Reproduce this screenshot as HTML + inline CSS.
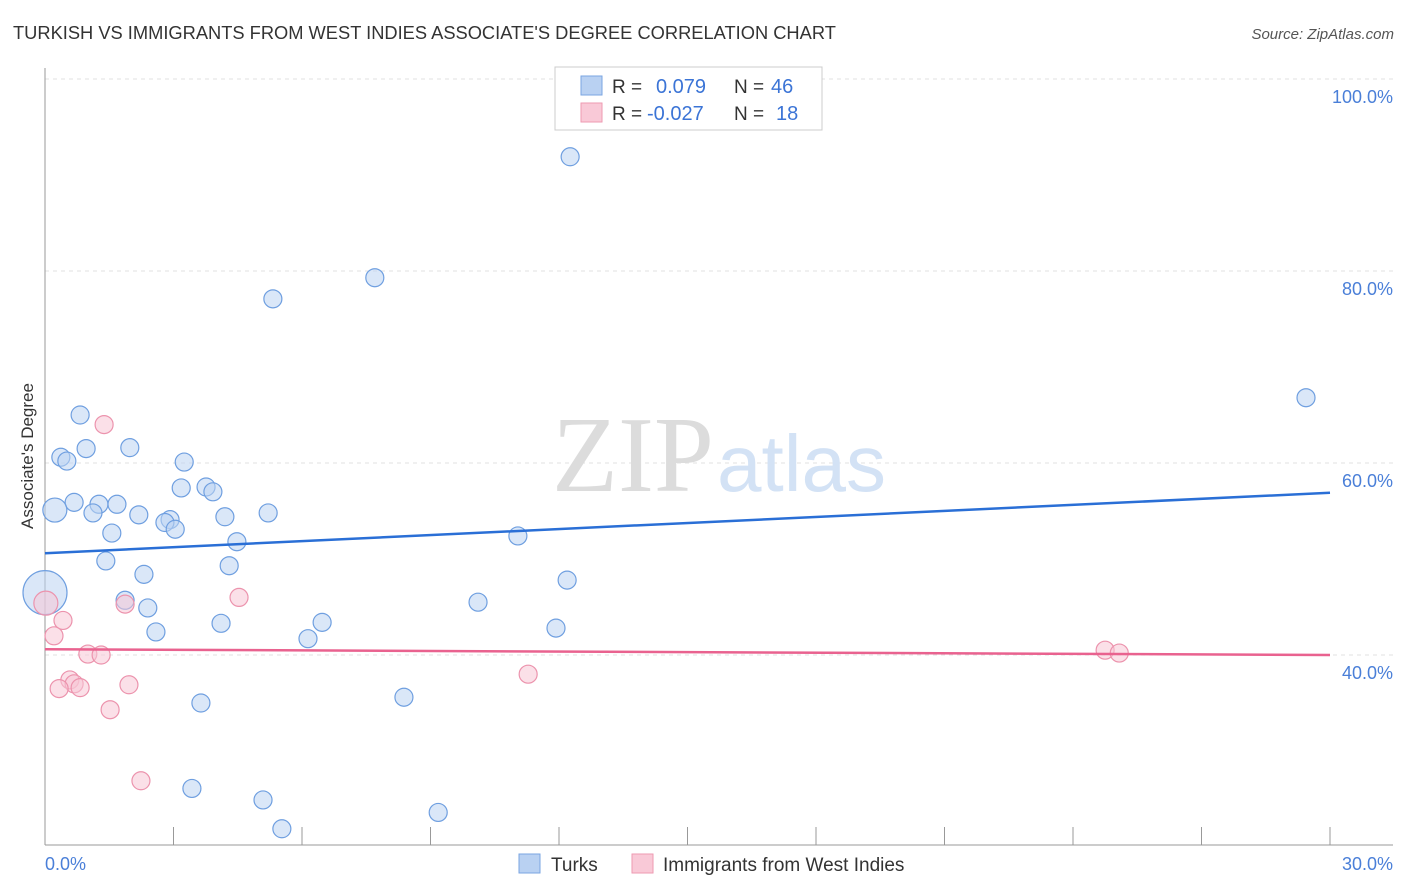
<!DOCTYPE html>
<html><head><meta charset="utf-8"><style>
body{margin:0;background:#fff;font-family:"Liberation Sans",sans-serif;}
svg{display:block}
</style></head><body>
<svg width="1406" height="892">
<text x="13" y="39" font-size="18.3" fill="#333">TURKISH VS IMMIGRANTS FROM WEST INDIES ASSOCIATE'S DEGREE CORRELATION CHART</text>
<text x="1394" y="39" font-size="15" fill="#555" font-style="italic" text-anchor="end">Source: ZipAtlas.com</text>
<g id="grid"></g>
<text x="714" y="491" font-size="108" fill="#dcdcdc" text-anchor="end" font-family="Liberation Serif">ZIP</text>
<text x="717" y="491" font-size="80" fill="#d3e2f5">atlas</text>
<line x1="45" y1="68" x2="45" y2="845" stroke="#999"/>
<line x1="45" y1="845" x2="1393" y2="845" stroke="#999"/>
<g id="ticks"></g>
<g id="pts"></g>
<g id="lines"></g>
<text x="33" y="456" font-size="17" fill="#333" text-anchor="middle" transform="rotate(-90 33 456)">Associate's Degree</text>
<text x="45" y="870" font-size="18" fill="#4a7fd8">0.0%</text>
<text x="1393" y="870" font-size="18" fill="#4a7fd8" text-anchor="end">30.0%</text>
<g>
<rect x="555" y="67" width="267" height="63" fill="#fff" stroke="#ccc"/>
<rect x="581" y="76" width="21" height="19" fill="#b9d1f2" stroke="#7aa5e2"/>
<rect x="581" y="103" width="21" height="19" fill="#f9c9d7" stroke="#ee9ab2"/>
<text x="612" y="93" font-size="19" fill="#333">R = </text><text x="656" y="93" font-size="20" fill="#3b74d6">0.079</text>
<text x="734" y="93" font-size="19" fill="#333">N = </text><text x="771" y="93" font-size="20" fill="#3b74d6">46</text>
<text x="612" y="120" font-size="19" fill="#333">R = </text><text x="647" y="120" font-size="20" fill="#3b74d6">-0.027</text>
<text x="734" y="120" font-size="19" fill="#333">N = </text><text x="776" y="120" font-size="20" fill="#3b74d6">18</text>
</g>
<g>
<rect x="519" y="854" width="21" height="19" fill="#b9d1f2" stroke="#7aa5e2"/>
<text x="551" y="871" font-size="19" fill="#333">Turks</text>
<rect x="632" y="854" width="21" height="19" fill="#f9c9d7" stroke="#ee9ab2"/>
<text x="663" y="871" font-size="19" fill="#333">Immigrants from West Indies</text>
</g>
</svg>
<script>
const yTicks=[40,60,80,100];
const xTickCount=10;
const turksX=[12.26,7.70,5.32,29.44,0.82,1.98,0.96,0.37,0.51,3.25,3.18,3.76,3.92,0.68,1.26,1.68,0.23,1.12,2.19,2.92,2.80,4.20,5.21,3.04,1.56,4.48,11.04,1.42,4.30,2.31,12.19,0,1.87,2.40,10.11,4.11,6.47,11.93,2.59,6.14,3.64,8.38,3.43,5.09,5.53,9.18];
const turksY=[91.9,79.3,77.1,66.8,65.0,61.6,61.5,60.6,60.2,60.1,57.4,57.5,57.0,55.9,55.7,55.7,55.1,54.8,54.6,54.1,53.8,54.4,54.8,53.1,52.7,51.8,52.4,49.8,49.3,48.4,47.8,46.5,45.7,44.9,45.5,43.3,43.4,42.8,42.4,41.7,35.0,35.6,26.1,24.9,21.9,23.6];
const turksR=[9,9,9,9,9,9,9,9,9,9,9,9,9,9,9,9,12,9,9,9,9,9,9,9,9,9,9,9,9,9,9,22,9,9,9,9,9,9,9,9,9,9,9,9,9,9];
const wiX=[1.38,0.02,4.53,1.87,0.42,0.21,1.00,1.31,0.58,0.68,0.33,0.82,1.96,1.52,11.28,2.24,24.75,25.08];
const wiY=[64.0,45.4,46.0,45.3,43.6,42.0,40.1,40.0,37.4,37.0,36.5,36.6,36.9,34.3,38.0,26.9,40.5,40.2];
const wiR=[9,12,9,9,9,9,9,9,9,9,9,9,9,9,9,9,9,9];
const turksLine=[50.6,56.9];
const wiLine=[40.6,40.0];
const NS='http://www.w3.org/2000/svg';
const X=v=>45+v*(1285/30);
const Y=v=>655-(v-40)*9.6;
function mk(t,a,p){const e=document.createElementNS(NS,t);for(const k in a)e.setAttribute(k,a[k]);document.getElementById(p).appendChild(e);return e;}
yTicks.forEach(v=>{
 const l=mk('line',{x1:45,x2:1393,y1:Y(v),y2:Y(v),stroke:'#e2e2e2','stroke-dasharray':'4,4'},'grid');
 
 
 const t=mk('text',{x:1393,y:Y(v)+24,'font-size':18,fill:'#4a7fd8','text-anchor':'end'},'grid');
 t.textContent=v.toFixed(1)+'%';
 
 
});
for(let i=1;i<=xTickCount;i++){
 const l=mk('line',{x1:X(i*3),x2:X(i*3),y1:827,y2:845,stroke:'#999'},'ticks');
 
 
}
function series(xs,ys,rs,fill,stroke,name){
 xs.forEach((x,i)=>{
  const c=mk('circle',{cx:X(x),cy:Y(ys[i]),r:rs[i],fill:fill,'fill-opacity':0.55,stroke:stroke,'stroke-width':1.2},'pts');
  
  
 });
}
series(turksX,turksY,turksR,'#bcd3f3','#6f9fe0','turks');
series(wiX,wiY,wiR,'#f8c6d5','#ec93ad','west-indies');
const l1=mk('line',{x1:X(0),x2:X(30),y1:Y(turksLine[0]),y2:Y(turksLine[1]),stroke:'#2a6fd6','stroke-width':2.5},'lines');


const l2=mk('line',{x1:X(0),x2:X(30),y1:Y(wiLine[0]),y2:Y(wiLine[1]),stroke:'#e9628f','stroke-width':2.5},'lines');


</script>
</body></html>
